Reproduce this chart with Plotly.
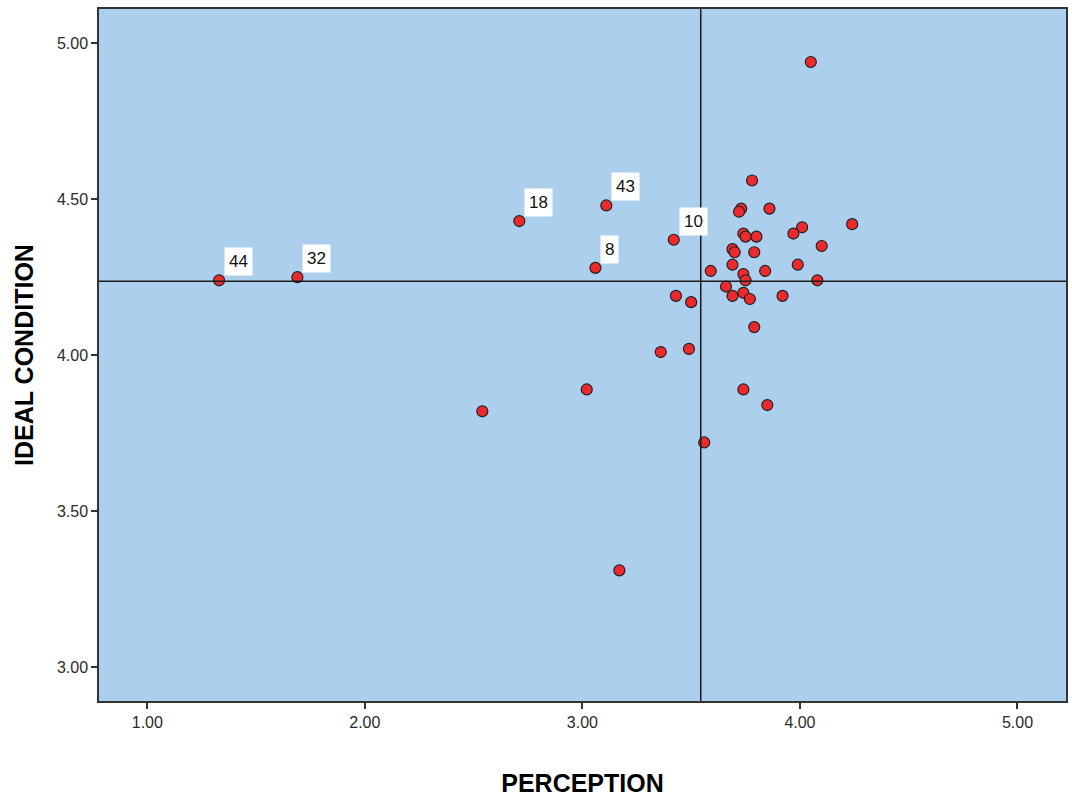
import plotly.graph_objects as go

# PERCEPTION (x) and IDEAL CONDITION (y) for 44 cases
perception = [1.33, 1.69, 2.71, 3.11, 3.42, 3.06, 4.05, 3.78, 3.73, 3.72,
              3.86, 4.24, 4.01, 3.97, 3.74, 3.75, 3.80, 4.10, 3.69, 3.70,
              3.79, 3.59, 3.69, 3.84, 3.99, 3.74, 3.75, 4.08, 3.66, 3.43,
              3.50, 3.69, 3.74, 3.77, 3.92, 3.79, 3.36, 3.49, 3.74, 3.85,
              3.56, 2.54, 3.02, 3.17]
ideal = [4.24, 4.25, 4.43, 4.48, 4.37, 4.28, 4.94, 4.56, 4.47, 4.46,
         4.47, 4.42, 4.41, 4.39, 4.39, 4.38, 4.38, 4.35, 4.34, 4.33,
         4.33, 4.27, 4.29, 4.27, 4.29, 4.26, 4.24, 4.24, 4.22, 4.19,
         4.17, 4.19, 4.20, 4.18, 4.19, 4.09, 4.01, 4.02, 3.89, 3.84,
         3.72, 3.82, 3.89, 3.31]
case_labels = ["44", "32", "18", "43", "10", "8"] + [""] * 38

mean_perception = 3.544
mean_ideal = 4.237

x_ticks = [1.0, 2.0, 3.0, 4.0, 5.0]
y_ticks = [3.0, 3.5, 4.0, 4.5, 5.0]

FONT = "Liberation Sans, Arial, sans-serif"

fig = go.Figure()
fig.add_trace(go.Scatter(
    x=perception, y=ideal, mode="markers",
    marker=dict(size=11, color="#EC2A2E", line=dict(color="#222222", width=1.2)),
    showlegend=False, hoverinfo="x+y",
))

for xv, yv, lab in zip(perception, ideal, case_labels):
    if lab:
        fig.add_annotation(
            x=xv, y=yv, text=lab, showarrow=False,
            xanchor="left", yanchor="bottom", xshift=5, yshift=4,
            bgcolor="white", borderpad=4,
            font=dict(family=FONT, size=17, color="#111111"),
        )

fig.add_shape(type="line", xref="x", yref="paper", x0=mean_perception, x1=mean_perception,
              y0=0, y1=1, line=dict(color="#1a1a1a", width=1.5), layer="above")
fig.add_shape(type="line", xref="paper", yref="y", x0=0, x1=1, y0=mean_ideal, y1=mean_ideal,
              line=dict(color="#1a1a1a", width=1.5), layer="above")

axis_common = dict(
    showgrid=False, zeroline=False, showline=True, linecolor="#333333", linewidth=1.5,
    mirror=True, ticks="outside", ticklen=6, tickwidth=1.5, tickcolor="#333333",
    tickfont=dict(family=FONT, size=16, color="#2a2a2a"),
)

fig.update_layout(
    width=1072, height=799,
    margin=dict(l=99, r=4, t=9, b=98),
    paper_bgcolor="white", plot_bgcolor="#ADCFEE",
    xaxis=dict(range=[0.778, 5.223], tickvals=x_ticks,
               ticktext=[f"{v:.2f}" for v in x_ticks],
               title=dict(text="PERCEPTION", standoff=45,
                          font=dict(family=FONT, size=25, color="#000000", weight="bold")),
               **axis_common),
    yaxis=dict(range=[2.891, 5.11], tickvals=y_ticks,
               ticktext=[f"{v:.2f}" for v in y_ticks],
               title=dict(text="IDEAL CONDITION", standoff=16,
                          font=dict(family=FONT, size=25, color="#000000", weight="bold")),
               **axis_common),
)

fig.write_html(
    "out.html",
    config={"displayModeBar": False},
    post_script="document.body.style.margin='0';document.body.style.overflow='hidden';",
)
